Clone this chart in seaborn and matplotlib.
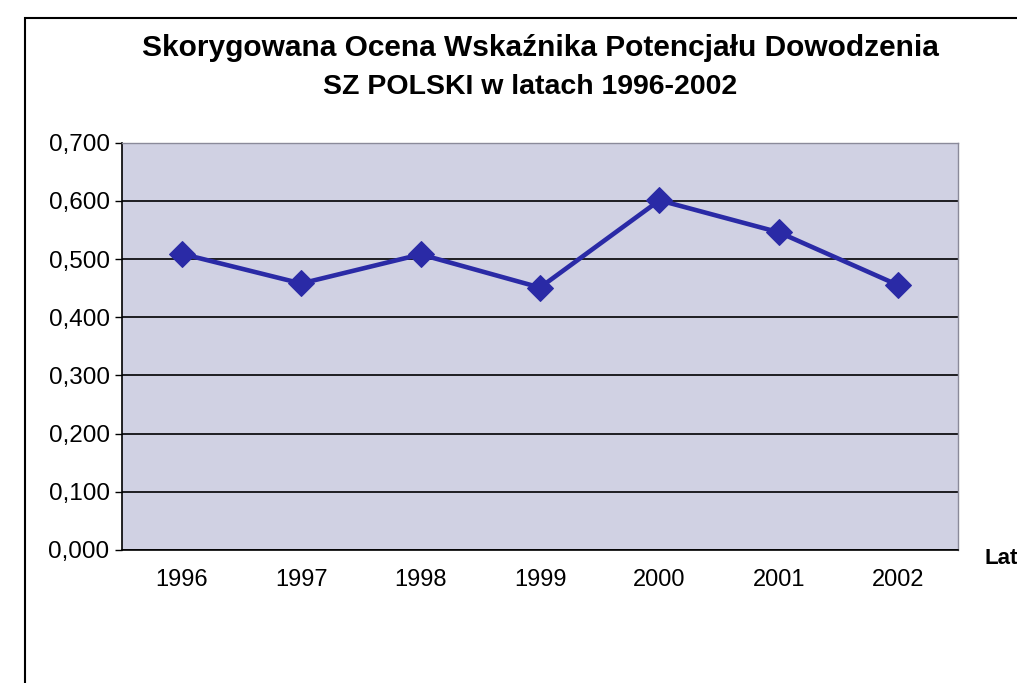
import numpy as np
import pandas as pd
import matplotlib
matplotlib.use('Agg')
import matplotlib.pyplot as plt
import seaborn as sns
from matplotlib.ticker import FuncFormatter, FixedLocator
from matplotlib.patches import Rectangle

# --- dane ---
lata = ['1996', '1997', '1998', '1999', '2000', '2001', '2002']
wskaznik = [0.509, 0.458, 0.508, 0.451, 0.601, 0.546, 0.455]
y_ticks = [0.0, 0.1, 0.2, 0.3, 0.4, 0.5, 0.6, 0.7]

df = pd.DataFrame({'Lata': lata, 'Wskaznik': wskaznik})

sns.set_theme(style='white')
plt.rcParams['font.family'] = ['Liberation Sans', 'DejaVu Sans']
plt.rcParams['text.color'] = 'black'

fig = plt.figure(figsize=(10.17, 6.83), dpi=100)
ax = fig.add_axes([0.12, 0.195, 0.822, 0.596])
ax.set_facecolor('#d0d1e3')

sns.lineplot(data=df, x='Lata', y='Wskaznik', ax=ax, color='#2a2aa6',
             linewidth=3.3, marker='D', markersize=13.5,
             markeredgecolor='#2a2aa6', sort=False)

ax.set_xlim(-0.5, len(lata) - 0.5)
ax.set_ylim(0, 0.7)
ax.yaxis.set_major_locator(FixedLocator(y_ticks))
ax.yaxis.set_major_formatter(FuncFormatter(lambda v, p: f'{v:.3f}'.replace('.', ',')))
ax.grid(axis='y', color='black', linewidth=1.2)
ax.set_axisbelow(True)

# kreski podziałki między kategoriami
ax.set_xticks(np.arange(-0.5, len(lata)), minor=True)
ax.tick_params(axis='x', which='major', length=0, labelsize=17, pad=14,
               colors='black', labelcolor='black')
ax.tick_params(axis='x', which='minor', length=5, width=1, colors='black', direction='out')
ax.tick_params(axis='y', which='major', length=5, width=1, labelsize=17.5, pad=4,
               colors='black', labelcolor='black', direction='out', left=True)
ax.set_xlabel('')
ax.set_ylabel('')

for s in ['left', 'bottom']:
    ax.spines[s].set_color('black')
    ax.spines[s].set_linewidth(1.2)
for s in ['top', 'right']:
    ax.spines[s].set_color('#8a8a9a')
    ax.spines[s].set_linewidth(1)

fig.text(0.531, 0.93, 'Skorygowana Ocena Wskaźnika Potencjału Dowodzenia',
         ha='center', va='center', fontsize=21.5, fontweight='bold', color='black')
fig.text(0.521, 0.872, 'SZ POLSKI w latach 1996-2002',
         ha='center', va='center', fontsize=20.5, fontweight='bold', color='black')
fig.text(0.968, 0.182, 'Lata', ha='left', va='center', fontsize=16,
         fontweight='bold', color='black')

# ramka wykresu
fig.patches.append(Rectangle((0.025, -0.01), 1.0, 0.984, transform=fig.transFigure,
                             fill=False, edgecolor='black', linewidth=1.5))

fig.savefig('out.png', dpi=100)
